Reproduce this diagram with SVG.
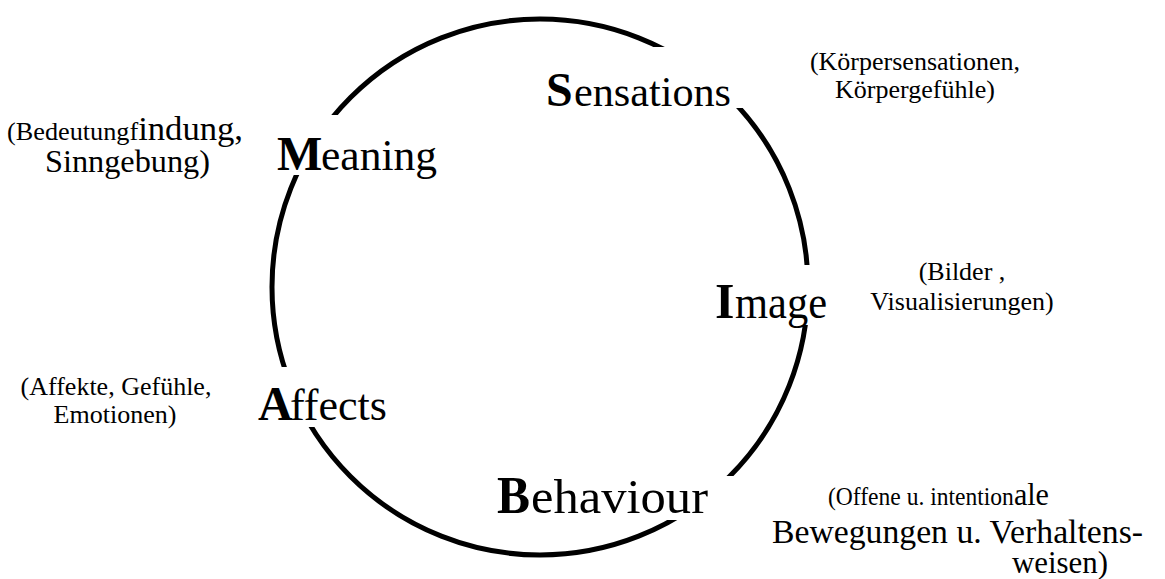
<svg xmlns="http://www.w3.org/2000/svg" width="1165" height="579" viewBox="0 0 1165 579">
<style>
text{font-family:"Liberation Serif","Times New Roman",serif;fill:#000}
.b{font-weight:bold}
.c{text-anchor:middle}
.bg{fill:#fff}
</style>
<rect width="1165" height="579" fill="#fff"/>
<g id="connectors">
<circle cx="540" cy="287" r="268" fill="none" stroke="#000" stroke-width="5"/>
</g>
<g id="sensations">
<rect class="bg" x="540" y="47" width="205" height="61"/>
<text class="b" x="546" y="106" font-size="48">S</text>
<text x="574" y="106" font-size="42" textLength="157" lengthAdjust="spacingAndGlyphs">ensations</text>
<text class="c" x="915" y="70" font-size="26">(Körpersensationen,</text>
<text class="c" x="915" y="98" font-size="26">Körpergefühle)</text>
</g>
<g id="meaning">
<rect class="bg" x="270" y="115" width="175" height="60"/>
<text class="b" x="277" y="170" font-size="48">M</text>
<text x="321" y="170" font-size="44" textLength="116" lengthAdjust="spacingAndGlyphs">eaning</text>
<text x="7" y="140" font-size="25" textLength="236" lengthAdjust="spacingAndGlyphs">(Bedeutungf<tspan font-size="33">indung,</tspan></text>
<text x="45" y="172" font-size="32" textLength="165" lengthAdjust="spacingAndGlyphs">Sinngebung)</text>
</g>
<g id="image">
<rect class="bg" x="705" y="265" width="130" height="60"/>
<text class="b" x="715" y="318" font-size="50">I</text>
<text x="735" y="318" font-size="46" textLength="92" lengthAdjust="spacingAndGlyphs">mage</text>
<text class="c" x="962" y="280" font-size="26">(Bilder ,</text>
<text class="c" x="962" y="310" font-size="26">Visualisierungen)</text>
</g>
<g id="affects">
<rect class="bg" x="250" y="367" width="145" height="60"/>
<text class="b" x="258" y="420" font-size="48">A</text>
<text x="290" y="420" font-size="44" textLength="97" lengthAdjust="spacingAndGlyphs">ffects</text>
<text class="c" x="116" y="395" font-size="26">(Affekte, Gefühle,</text>
<text class="c" x="115" y="423" font-size="26">Emotionen)</text>
</g>
<g id="behaviour">
<rect class="bg" x="490" y="476" width="255" height="44"/>
<text class="b" x="497" y="513" font-size="52" textLength="33" lengthAdjust="spacingAndGlyphs">B</text>
<text x="531" y="513" font-size="48" textLength="177" lengthAdjust="spacingAndGlyphs">ehaviour</text>
<text x="828" y="505" font-size="25" textLength="221" lengthAdjust="spacingAndGlyphs">(Offene u. intention<tspan font-size="32">ale</tspan></text>
<text x="772" y="543" font-size="33" textLength="371" lengthAdjust="spacingAndGlyphs">Bewegungen u. Verhaltens-</text>
<text x="1012" y="573" font-size="32" textLength="96" lengthAdjust="spacingAndGlyphs">weisen)</text>
</g>
</svg>
